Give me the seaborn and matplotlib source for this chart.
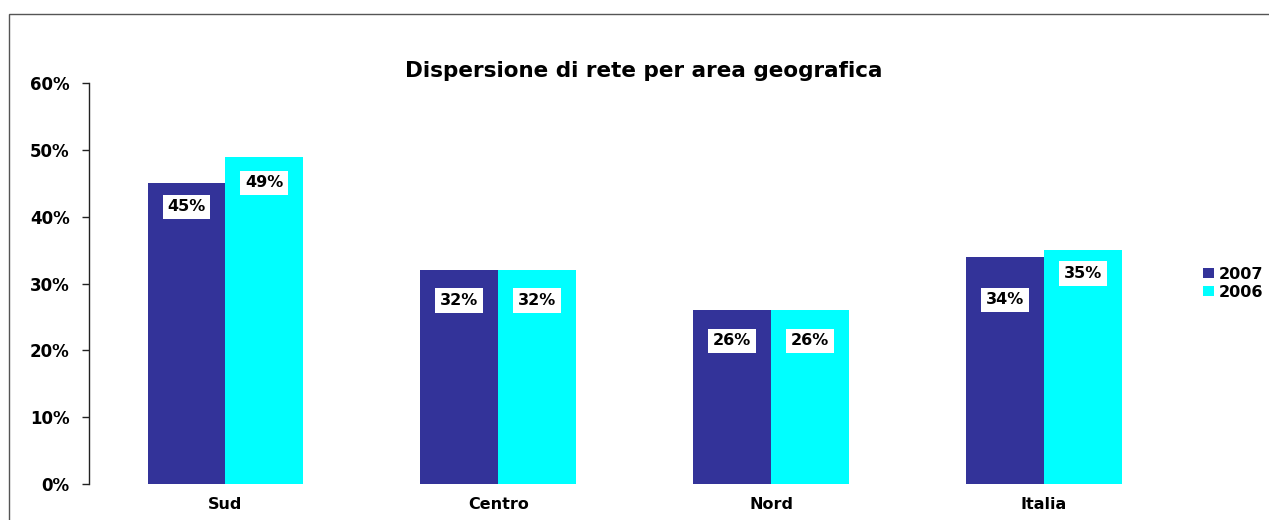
import matplotlib
matplotlib.use("Agg")
import matplotlib.pyplot as plt
from matplotlib.patches import Rectangle
from matplotlib.ticker import PercentFormatter
import seaborn as sns
import pandas as pd

# Data
areas = ["Sud", "Centro", "Nord", "Italia"]
years = ["2007", "2006"]
values_2007 = [45, 32, 26, 34]
values_2006 = [49, 32, 26, 35]
y_ticks = [0, 10, 20, 30, 40, 50, 60]

# Distance (in points) of each value label below the top of its bar
label_drop_2007 = [17, 22, 22, 31]
label_drop_2006 = [19, 22, 22, 17]

colors = {"2007": "#333399", "2006": "#00FFFF"}

df = pd.DataFrame({
    "area": areas * 2,
    "year": [years[0]] * len(areas) + [years[1]] * len(areas),
    "value": values_2007 + values_2006,
})

sns.set_theme(style="white")
plt.rcParams["font.family"] = ["DejaVu Sans"]
plt.rcParams["text.color"] = "black"

fig = plt.figure(figsize=(12.69, 5.2), dpi=100)
ax = fig.add_axes([0.0701, 0.0692, 0.860, 0.7712])

sns.barplot(data=df, x="area", y="value", hue="year", order=areas,
            hue_order=years, palette=colors, width=0.57, gap=0,
            saturation=1, linewidth=0, ax=ax, legend=True)

ax.set_ylim(0, 60)
ax.set_xlim(-0.5, len(areas) - 0.5)
ax.set_yticks(y_ticks)
ax.yaxis.set_major_formatter(PercentFormatter(decimals=0))
ax.set_xlabel("")
ax.set_ylabel("")

for side in ["top", "right", "bottom"]:
    ax.spines[side].set_visible(False)
ax.spines["left"].set_color("#222222")
ax.spines["left"].set_linewidth(1.0)

ax.tick_params(axis="y", which="both", left=True, length=5, width=1,
               color="#222222", pad=9, labelsize=12, labelcolor="black")
ax.tick_params(axis="x", length=0, pad=9, labelsize=11.5, labelcolor="black")
for lbl in ax.get_yticklabels() + ax.get_xticklabels():
    lbl.set_fontweight("bold")

# Value labels in white boxes inside each bar
drops = [label_drop_2007, label_drop_2006]
for container, vals, drop in zip(ax.containers, [values_2007, values_2006], drops):
    for bar, v, d in zip(container, vals, drop):
        cx = bar.get_x() + bar.get_width() / 2
        ax.annotate(f"{v}%", xy=(cx, bar.get_height()), xytext=(0, -d),
                    textcoords="offset points", ha="center", va="center",
                    fontsize=11.5, fontweight="bold", color="black",
                    bbox=dict(boxstyle="square,pad=0.3", fc="white", ec="none"))

ax.set_title("Dispersione di rete per area geografica", fontsize=15.5,
             fontweight="bold", color="black", pad=4, x=0.508)

# Legend on the right
handles, labels = ax.get_legend_handles_labels()
ax.legend_.remove()
leg = fig.legend(handles, labels, loc="center left",
                 bbox_to_anchor=(0.948, 0.455), frameon=False,
                 prop={"size": 11.5, "weight": "bold"},
                 handlelength=0.7, handleheight=0.6, handletextpad=0.3,
                 labelspacing=0.2, borderpad=0, borderaxespad=0)
for t in leg.get_texts():
    t.set_color("black")

# Outer chart frame
fig.add_artist(Rectangle((9 / 1269, -0.2), 1.2, 1.2 - 14 / 520,
                         transform=fig.transFigure, fill=False,
                         edgecolor="#555555", linewidth=1.0))

fig.savefig("out.png", dpi=100, facecolor="white")
